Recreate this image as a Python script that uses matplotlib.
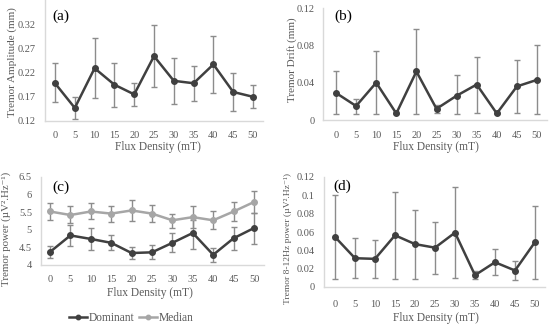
import matplotlib
matplotlib.use("Agg")
import matplotlib.pyplot as plt
import numpy as np

W, H = 550, 327
DPI = 100

flux = ["0", "5", "10", "15", "20", "25", "30", "35", "40", "45", "50"]

# (a) tremor amplitude, mm
amp = [0.198, 0.147, 0.229, 0.195, 0.175, 0.254, 0.203, 0.198, 0.237, 0.180, 0.170]
amp_lo = [0.159, 0.125, 0.167, 0.148, 0.150, 0.190, 0.155, 0.162, 0.178, 0.140, 0.146]
amp_hi = [0.240, 0.169, 0.292, 0.240, 0.199, 0.319, 0.250, 0.233, 0.296, 0.219, 0.194]

# (b) tremor drift, mm
drift = [0.029, 0.015, 0.040, 0.007, 0.052, 0.012, 0.026, 0.038, 0.007, 0.036, 0.043]
drift_lo = [0.006, 0.006, 0.006, 0.006, 0.006, 0.007, 0.006, 0.007, 0.006, 0.007, 0.006]
drift_hi = [0.053, 0.023, 0.074, 0.007, 0.098, 0.016, 0.048, 0.068, 0.007, 0.064, 0.080]

# (c) tremor power
dom = [4.37, 4.84, 4.74, 4.63, 4.34, 4.36, 4.63, 4.91, 4.29, 4.76, 5.05]
dom_lo = [4.20, 4.53, 4.43, 4.42, 4.18, 4.16, 4.37, 4.46, 4.09, 4.43, 4.61]
dom_hi = [4.54, 5.13, 5.04, 4.86, 4.51, 4.58, 4.90, 5.28, 4.48, 5.07, 5.48]

med = [5.52, 5.42, 5.52, 5.46, 5.55, 5.46, 5.27, 5.36, 5.27, 5.52, 5.79]
med_lo = [5.29, 5.18, 5.30, 5.23, 5.25, 5.22, 5.04, 5.05, 5.03, 5.26, 5.48]
med_hi = [5.76, 5.67, 5.75, 5.69, 5.86, 5.71, 5.46, 5.67, 5.52, 5.78, 6.10]

# (d) tremor 8-12 Hz power
band = [0.0546, 0.0314, 0.0307, 0.0564, 0.0468, 0.0429, 0.0593, 0.0129, 0.0270, 0.0180, 0.0490]
band_lo = [0.009, 0.010, 0.010, 0.009, 0.009, 0.0143, 0.0093, 0.009, 0.013, 0.008, 0.009]
band_hi = [0.100, 0.053, 0.0514, 0.104, 0.084, 0.071, 0.109, 0.018, 0.041, 0.028, 0.0886]

DARK = "#404040"
LIGHT = "#a6a6a6"
ERR = "#8c8c8c"
TXT = "#595959"
AXL = "#d9d9d9"

plt.rcParams["font.family"] = ["Liberation Serif", "DejaVu Serif"]

fig = plt.figure(figsize=(W / DPI, H / DPI), dpi=DPI)


def px_axes(left, right, top, bottom):
    return fig.add_axes([left / W, 1 - bottom / H, (right - left) / W, (bottom - top) / H])


def setup(ax, left, right, x0, x10, ylim, yticks, yfmt, ypad, xpad):
    s = (x10 - x0) / 10
    ax.set_xlim((left - x0) / s, (right - x0) / s)
    ax.set_ylim(*ylim)
    ax.set_xticks(range(len(flux)))
    ax.set_xticklabels(flux)
    ax.set_yticks(yticks)
    ax.set_yticklabels([yfmt(v) for v in yticks])
    for side in ["top", "right"]:
        ax.spines[side].set_visible(False)
    for side in ["left", "bottom"]:
        ax.spines[side].set_color(AXL)
        ax.spines[side].set_linewidth(1.0)
    ax.tick_params(axis="x", length=0, pad=xpad, labelsize=7.5, labelcolor=TXT)
    ax.tick_params(axis="y", length=0, pad=ypad, labelsize=7.5, labelcolor=TXT)
    ax.patch.set_alpha(0)


def series(ax, vals, lo, hi, color, label=None):
    x = np.arange(len(vals))
    vals = np.array(vals)
    yerr = [vals - np.array(lo), np.array(hi) - vals]
    ax.errorbar(x, vals, yerr=yerr, fmt="none", ecolor=ERR, elinewidth=1.0,
                capsize=2.5, capthick=1.0, zorder=2)
    ax.plot(x, vals, color=color, lw=1.8, marker="o", ms=4, zorder=3, label=label)


def ftext(x, y, s, color=TXT, **kw):
    fig.text(x / W, 1 - y / H, s, ha="center", va="center", color=color, **kw)


def fmt_dec(n):
    return lambda v: f"{v:.{n}f}"


def fmt_g(v):
    return f"{v:g}"


# (a)
ax_a = px_axes(45, 263, 0, 121)
setup(ax_a, 45, 263, 55, 253, (0.12, 0.37), [0.12, 0.17, 0.22, 0.27, 0.32],
      fmt_dec(2), 6.5, 7)
series(ax_a, amp, amp_lo, amp_hi, DARK)
ftext(12.5, 62, "Tremor Amplitude (mm)", rotation=90, fontsize=8)
ftext(158, 147, "Flux Density (mT)", fontsize=8.3)
ftext(61, 16, "(a)", fontsize=11, color="black")

# (b)
ax_b = px_axes(323, 547, 8, 120)
setup(ax_b, 323, 547, 336, 537, (0, 0.12), [0, 0.04, 0.08, 0.12],
      fmt_g, 6, 8)
series(ax_b, drift, drift_lo, drift_hi, DARK)
ftext(292, 60, "Tremor Drift (mm)", rotation=90, fontsize=8)
ftext(436, 147, "Flux Density (mT)", fontsize=8.3)
ftext(343, 16, "(b)", fontsize=11, color="black")

# (c)
ax_c = px_axes(41, 264, 177, 265)
setup(ax_c, 41, 264, 50, 254, (4, 6.5), [4, 4.5, 5, 5.5, 6, 6.5],
      fmt_g, 6.5, 7)
series(ax_c, med, med_lo, med_hi, LIGHT, "Median")
series(ax_c, dom, dom_lo, dom_hi, DARK, "Dominant")
ftext(6, 229, "Tremor power (\u00b5V\u00b2.Hz\u207b\u00b9)", rotation=90, fontsize=7.8)
ftext(150, 293, "Flux Density (mT)", fontsize=8.3)
ftext(61, 187, "(c)", fontsize=11, color="black")

# (d)
ax_d = px_axes(324, 545, 177, 287)
setup(ax_d, 324, 545, 335, 535, (0, 0.12), [0, 0.02, 0.04, 0.06, 0.08, 0.1, 0.12],
      fmt_g, 7, 9.5)
series(ax_d, band, band_lo, band_hi, DARK)
ftext(288, 238, "Tremor 8-12Hz power (\u00b5V\u00b2.Hz\u207b\u00b9)", rotation=90, fontsize=6.8)
ftext(436, 318, "Flux Density (mT)", fontsize=8.3)
ftext(342, 186, "(d)", fontsize=11, color="black")

handles, labels = ax_c.get_legend_handles_labels()
order = [labels.index("Dominant"), labels.index("Median")]
leg = fig.legend([handles[i] for i in order], [labels[i] for i in order],
                 loc="center", bbox_to_anchor=(131 / W, 1 - 318 / H), ncol=2,
                 frameon=False, fontsize=8.3, handlelength=1.6, handletextpad=0.1,
                 columnspacing=0.4, markerscale=0.8)
for t in leg.get_texts():
    t.set_color(TXT)

fig.savefig("out.png", dpi=DPI)
